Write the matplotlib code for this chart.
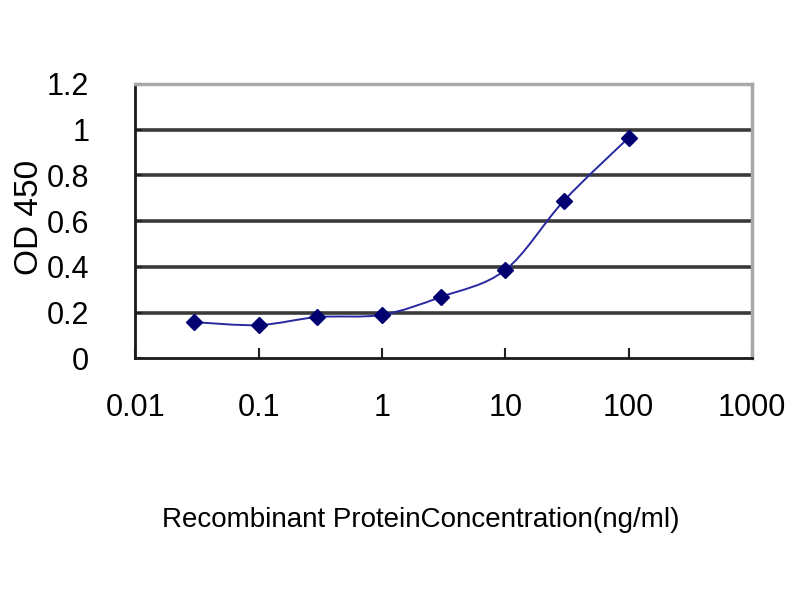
import numpy as np
import matplotlib
matplotlib.use('Agg')
import matplotlib.pyplot as plt
from matplotlib.path import Path
from matplotlib.patches import PathPatch

# data
conc = [0.03, 0.1, 0.3, 1, 3, 10, 30, 100]
od = [0.158, 0.145, 0.18, 0.19, 0.268, 0.386, 0.69, 0.965]
x_ticks = [0.01, 0.1, 1, 10, 100, 1000]
x_labels = ['0.01', '0.1', '1', '10', '100', '1000']
y_ticks = [0, 0.2, 0.4, 0.6, 0.8, 1, 1.2]
y_labels = ['0', '0.2', '0.4', '0.6', '0.8', '1', '1.2']

fonts = ['Liberation Sans', 'DejaVu Sans']


def smooth_path(xs, ys):
    # excel style smoothed line, bezier segments in log-x space
    u = np.log10(xs)
    v = np.array(ys, dtype=float)
    n = len(u)
    verts = [(xs[0], v[0])]
    codes = [Path.MOVETO]
    for i in range(n - 1):
        i0 = max(i - 1, 0)
        i3 = min(i + 2, n - 1)
        c1u = u[i] + (u[i + 1] - u[i0]) / 6
        c1v = v[i] + (v[i + 1] - v[i0]) / 6
        c2u = u[i + 1] - (u[i3] - u[i]) / 6
        c2v = v[i + 1] - (v[i3] - v[i]) / 6
        verts += [(10 ** c1u, c1v), (10 ** c2u, c2v), (xs[i + 1], v[i + 1])]
        codes += [Path.CURVE4] * 3
    return Path(verts, codes)


fig = plt.figure(figsize=(8, 6), dpi=100)
ax = fig.add_axes([0.169, 0.403, 0.771, 0.457])
ax.set_xscale('log')
ax.set_xlim(0.01, 1000)
ax.set_ylim(0, 1.2)

for yv in y_ticks[1:-1]:
    ax.axhline(yv, color='#3a3a3a', lw=2.6, zorder=1)

ax.add_patch(PathPatch(smooth_path(conc, od), fill=False, edgecolor='#2828a0',
                       lw=1.4, zorder=3))
ax.plot(conc, od, ls='none', marker='D', ms=8.5, color='#000070', zorder=4)

ax.set_xticks(x_ticks)
ax.set_xticklabels(x_labels, family=fonts, fontsize=22)
ax.xaxis.set_minor_locator(matplotlib.ticker.NullLocator())
ax.set_yticks(y_ticks)
ax.set_yticklabels(y_labels, family=fonts, fontsize=22)
ax.tick_params(axis='x', direction='in', length=7, width=1.5, pad=25, color='#222222')
ax.tick_params(axis='y', direction='in', length=5, width=1.5, pad=33, color='#222222')

for s in ['left', 'bottom']:
    ax.spines[s].set_color('#1a1a1a')
    ax.spines[s].set_linewidth(2)
for s in ['top', 'right']:
    ax.spines[s].set_color('#a8a8a8')
    ax.spines[s].set_linewidth(2.5)

ax.set_ylabel('OD 450', family=fonts, fontsize=24)
ax.yaxis.set_label_coords(-0.146, 0.515)
fig.text(0.526, 0.133, 'Recombinant ProteinConcentration(ng/ml)', family=fonts,
         fontsize=20, ha='center', va='center')

fig.savefig('out.png', dpi=100)
